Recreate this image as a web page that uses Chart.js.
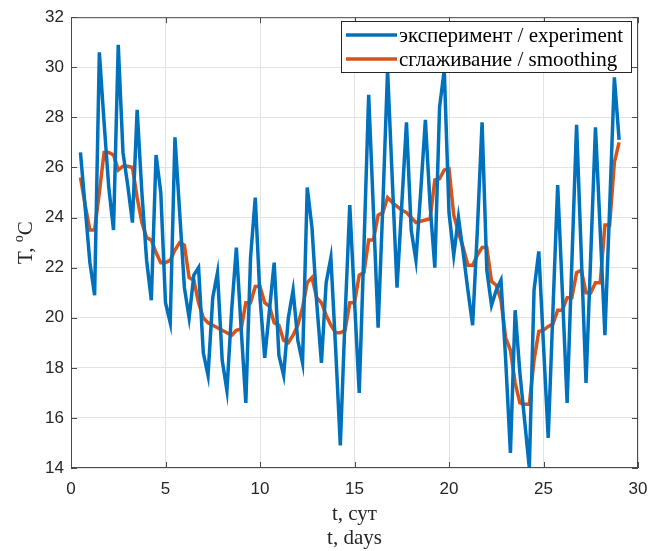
<!DOCTYPE html>
<html lang="ru">
<head>
<meta charset="UTF-8">
<title>T(t): эксперимент и сглаживание</title>
<script src="https://cdn.jsdelivr.net/npm/chart.js"></script>
<style>
  html, body { margin: 0; padding: 0; background: #fff; }
</style>
</head>
<body>
<canvas id="chartCanvas" width="662" height="551"></canvas>
<script>
// t, days (4 measurements per day)
const times = [0.5,0.75,1,1.25,1.5,1.75,2,2.25,2.5,2.75,3,3.25,3.5,3.75,4,4.25,4.5,4.75,5,5.25,
  5.5,5.75,6,6.25,6.5,6.75,7,7.25,7.5,7.75,8,8.25,8.5,8.75,9,9.25,9.5,9.75,10,10.25,
  10.5,10.75,11,11.25,11.5,11.75,12,12.25,12.5,12.75,13,13.25,13.5,13.75,14,14.25,14.5,14.75,15,15.25,
  15.5,15.75,16,16.25,16.5,16.75,17,17.25,17.5,17.75,18,18.25,18.5,18.75,19,19.25,19.5,19.75,20,20.25,
  20.5,20.75,21,21.25,21.5,21.75,22,22.25,22.5,22.75,23,23.25,23.5,23.75,24,24.25,24.5,24.75,25,25.25,
  25.5,25.75,26,26.25,26.5,26.75,27,27.25,27.5,27.75,28,28.25,28.5,28.75,29];

// T, oC - measured
const experiment = [26.6,24.4,22.2,20.9, 30.6,27.8,25.2,23.5, 30.9,26.6,25.3,23.8, 28.3,25.0,22.3,20.7,
  26.5,25.0,20.6,19.8, 27.2,24.2,21.2,20.0, 21.7,22.0,18.6,17.7, 20.8,21.8,18.3,17.1,
  20.3,22.8,19.6,16.6, 22.4,24.8,20.8,18.4, 20.3,22.2,18.5,17.7, 20.0,21.1,19.1,18.2,
  25.2,23.6,20.6,18.2, 21.4,22.4,18.8,14.9, 20.0,24.5,20.7,17.0, 22.8,28.9,24.3,19.6,
  24.5,29.9,25.5,21.2, 24.5,27.8,23.5,22.3, 25.0,27.9,24.5,22.0, 28.4,29.9,24.2,22.5,
  24.0,22.6,21.1,19.7, 23.5,27.8,21.9,20.5, 21.1,21.5,18.3,14.6, 20.3,17.8,15.9,14.0,
  21.1,22.65,18.9,15.2, 20.3,25.3,21.0,16.6, 22.2,27.7,22.5,17.4, 22.5,27.6,23.5,19.3,
  24.4,29.6,27.1];

// T, oC - smoothed
const smoothing = [25.6,24.5,23.5,23.5, 25.0,26.6,26.6,26.5, 25.9,26.05,26.05,26.0, 24.8,23.8,23.2,23.1,
  22.6,22.2,22.2,22.3, 22.7,23.0,22.9,21.6, 21.5,20.6,20.0,19.8, 19.7,19.6,19.5,19.4,
  19.3,19.5,19.55,20.6, 20.6,21.25,21.25,20.6, 20.45,19.8,19.7,19.1, 19.0,19.3,19.7,20.4,
  21.4,21.6,20.8,20.6, 20.1,19.7,19.4,19.4, 19.5,20.6,20.6,21.7, 21.8,23.1,23.1,24.1,
  24.2,24.8,24.6,24.45, 24.3,24.2,24.0,23.8, 23.85,23.9,23.95,25.5, 25.55,25.9,25.95,24.1,
  23.4,22.8,22.1,22.1, 22.5,22.8,22.8,21.45, 21.3,20.7,19.2,18.7, 17.4,16.6,16.55,16.55,
  18.3,19.45,19.5,19.65, 19.75,20.3,20.3,20.8, 20.8,21.8,21.9,21.0, 21.0,21.4,21.4,23.7,
  23.7,26.2,27.0];

const xTicks = [0, 5, 10, 15, 20, 25, 30];
const yTicks = [14, 16, 18, 20, 22, 24, 26, 28, 30, 32];

const seriesNames = ['эксперимент / experiment', 'сглаживание / smoothing'];
const xTitle = ['t, сут', 't, days'];

const serif = "'Liberation Serif', 'Times New Roman', serif";
const sans = "'Liberation Sans', Arial, sans-serif";

// box, inner ticks, y title with superscript and the legend, MATLAB style
const matlabPlugin = {
  id: 'matlabLook',
  afterDraw(chart) {
    const {ctx, chartArea: a, scales: {x, y}} = chart;
    ctx.save();

    ctx.strokeStyle = '#4a4a4a';
    ctx.lineWidth = 1;
    ctx.strokeRect(a.left + 0.5, a.top + 0.5, a.right - a.left - 1, a.bottom - a.top - 1);

    const len = 6;
    ctx.beginPath();
    xTicks.forEach(v => {
      const px = Math.round(x.getPixelForValue(v)) + 0.5;
      ctx.moveTo(px, a.bottom); ctx.lineTo(px, a.bottom - len);
      ctx.moveTo(px, a.top); ctx.lineTo(px, a.top + len);
    });
    yTicks.forEach(v => {
      const py = Math.round(y.getPixelForValue(v)) + 0.5;
      ctx.moveTo(a.left, py); ctx.lineTo(a.left + len, py);
      ctx.moveTo(a.right, py); ctx.lineTo(a.right - len, py);
    });
    ctx.stroke();

    // y title: T, oC
    ctx.fillStyle = '#262626';
    ctx.textBaseline = 'middle';
    ctx.translate(26, (a.top + a.bottom) / 2);
    ctx.rotate(-Math.PI / 2);
    const big = '21px ' + serif, small = '14px ' + serif;
    ctx.font = big;
    const w1 = ctx.measureText('T, ').width, w3 = ctx.measureText('C').width;
    ctx.font = small;
    const w2 = ctx.measureText('o').width;
    let tx = -(w1 + w2 + w3) / 2;
    ctx.font = big; ctx.fillText('T, ', tx, 0); tx += w1;
    ctx.font = small; ctx.fillText('o', tx, -7); tx += w2;
    ctx.font = big; ctx.fillText('C', tx, 0);
    ctx.setTransform(1, 0, 0, 1, 0, 0);

    // legend
    const bx = 341, by = 21, bw = 290, bh = 51;
    ctx.fillStyle = '#fff';
    ctx.fillRect(bx, by, bw, bh);
    ctx.strokeStyle = '#262626';
    ctx.lineWidth = 1;
    ctx.strokeRect(bx + 0.5, by + 0.5, bw, bh);
    chart.data.datasets.forEach((ds, i) => {
      const ly = by + 14 + i * 24;
      ctx.strokeStyle = ds.borderColor;
      ctx.lineWidth = ds.borderWidth;
      ctx.beginPath(); ctx.moveTo(bx + 5, ly); ctx.lineTo(bx + 56, ly); ctx.stroke();
      ctx.fillStyle = '#000';
      ctx.font = '21px ' + serif;
      ctx.textBaseline = 'middle';
      ctx.fillText(ds.label, bx + 58, ly + 1);
    });
    ctx.restore();
  }
};

const toPoints = vals => vals.map((v, i) => ({x: times[i], y: v}));

new Chart(document.getElementById('chartCanvas').getContext('2d'), {
  type: 'line',
  data: {
    datasets: [
      { label: seriesNames[0], data: toPoints(experiment), borderColor: '#0072BD', borderWidth: 3.5,
        pointRadius: 0, tension: 0, fill: false },
      { label: seriesNames[1], data: toPoints(smoothing), borderColor: '#D95319', borderWidth: 3.5,
        pointRadius: 0, tension: 0, fill: false }
    ]
  },
  options: {
    responsive: false,
    animation: false,
    devicePixelRatio: 1,
    layout: { padding: { top: 14, right: 24, left: 0, bottom: 0 } },
    plugins: { legend: { display: false }, tooltip: { enabled: false } },
    scales: {
      x: {
        type: 'linear', min: 0, max: 30,
        afterBuildTicks: s => { s.ticks = xTicks.map(v => ({value: v})); },
        afterFit: s => { s.height = 83; },
        grid: { color: '#e3e3e3', drawTicks: false },
        border: { display: false },
        ticks: { color: '#262626', padding: 11, font: { family: sans, size: 17 } },
        title: { display: true, text: xTitle, color: '#262626', padding: { top: 0, bottom: 0 },
          font: { family: serif, size: 21, lineHeight: 1.15 } }
      },
      y: {
        type: 'linear', min: 14, max: 32,
        afterBuildTicks: s => { s.ticks = yTicks.map(v => ({value: v})); },
        afterFit: s => { s.width = 71; },
        grid: { color: '#e3e3e3', drawTicks: false },
        border: { display: false },
        ticks: { color: '#262626', padding: 7, font: { family: sans, size: 17 } }
      }
    }
  },
  plugins: [matlabPlugin]
});
</script>
</body>
</html>
